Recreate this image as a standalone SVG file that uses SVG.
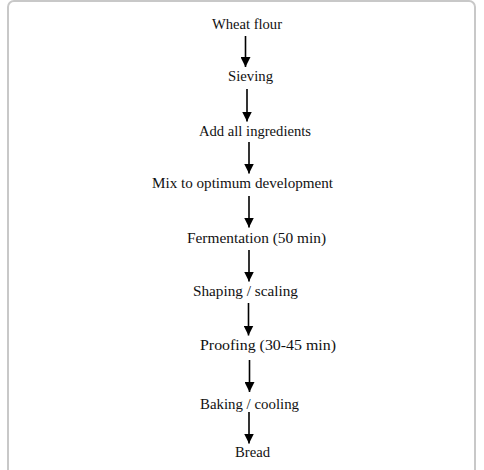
<svg xmlns="http://www.w3.org/2000/svg" width="484" height="470" viewBox="0 0 484 470">
<defs>
<marker id="ah" viewBox="0 0 10 10" refX="10" refY="5" markerWidth="10" markerHeight="10" markerUnits="userSpaceOnUse" orient="auto">
<path d="M0,0 L10,5 L0,10 Z" fill="#000"/>
</marker>
<style>
.lbl{font-family:"Liberation Serif","Times New Roman",serif;font-size:14.5px;fill:#111;}
.conn line{stroke:#000;stroke-width:1.6;marker-end:url(#ah);}
</style>
</defs>
<rect x="0" y="0" width="484" height="470" fill="#fff"/>
<rect x="8" y="1" width="467" height="490" rx="6" ry="6" fill="none" stroke="#c8c8c8" stroke-width="2"/>
<g id="n1"><text class="lbl" x="212" y="29" textLength="70" lengthAdjust="spacingAndGlyphs">Wheat flour</text></g>
<g id="n2"><text class="lbl" x="228" y="81" textLength="45" lengthAdjust="spacingAndGlyphs">Sieving</text></g>
<g id="n3"><text class="lbl" x="199" y="136" textLength="112" lengthAdjust="spacingAndGlyphs">Add all ingredients</text></g>
<g id="n4"><text class="lbl" x="152" y="187.5" textLength="181" lengthAdjust="spacingAndGlyphs">Mix to optimum development</text></g>
<g id="n5"><text class="lbl" x="187" y="242.5" textLength="139" lengthAdjust="spacingAndGlyphs">Fermentation (50 min)</text></g>
<g id="n6"><text class="lbl" x="193" y="296" textLength="105" lengthAdjust="spacingAndGlyphs">Shaping / scaling</text></g>
<g id="n7"><text class="lbl" x="200" y="350" textLength="136" lengthAdjust="spacingAndGlyphs">Proofing (30-45 min)</text></g>
<g id="n8"><text class="lbl" x="200" y="408.5" textLength="99" lengthAdjust="spacingAndGlyphs">Baking / cooling</text></g>
<g id="n9"><text class="lbl" x="235" y="456.5" textLength="35" lengthAdjust="spacingAndGlyphs">Bread</text></g>
<g id="connectors" class="conn">
<line x1="245.5" y1="36" x2="245.5" y2="67"/>
<line x1="247" y1="89" x2="247" y2="121.5"/>
<line x1="249" y1="142" x2="249" y2="173.5"/>
<line x1="249" y1="196" x2="249" y2="227.5"/>
<line x1="249" y1="250" x2="249" y2="281.5"/>
<line x1="248.5" y1="303" x2="248.5" y2="335.5"/>
<line x1="249.5" y1="360" x2="249.5" y2="392"/>
<line x1="249" y1="412" x2="249" y2="443.5"/>
</g>
</svg>
